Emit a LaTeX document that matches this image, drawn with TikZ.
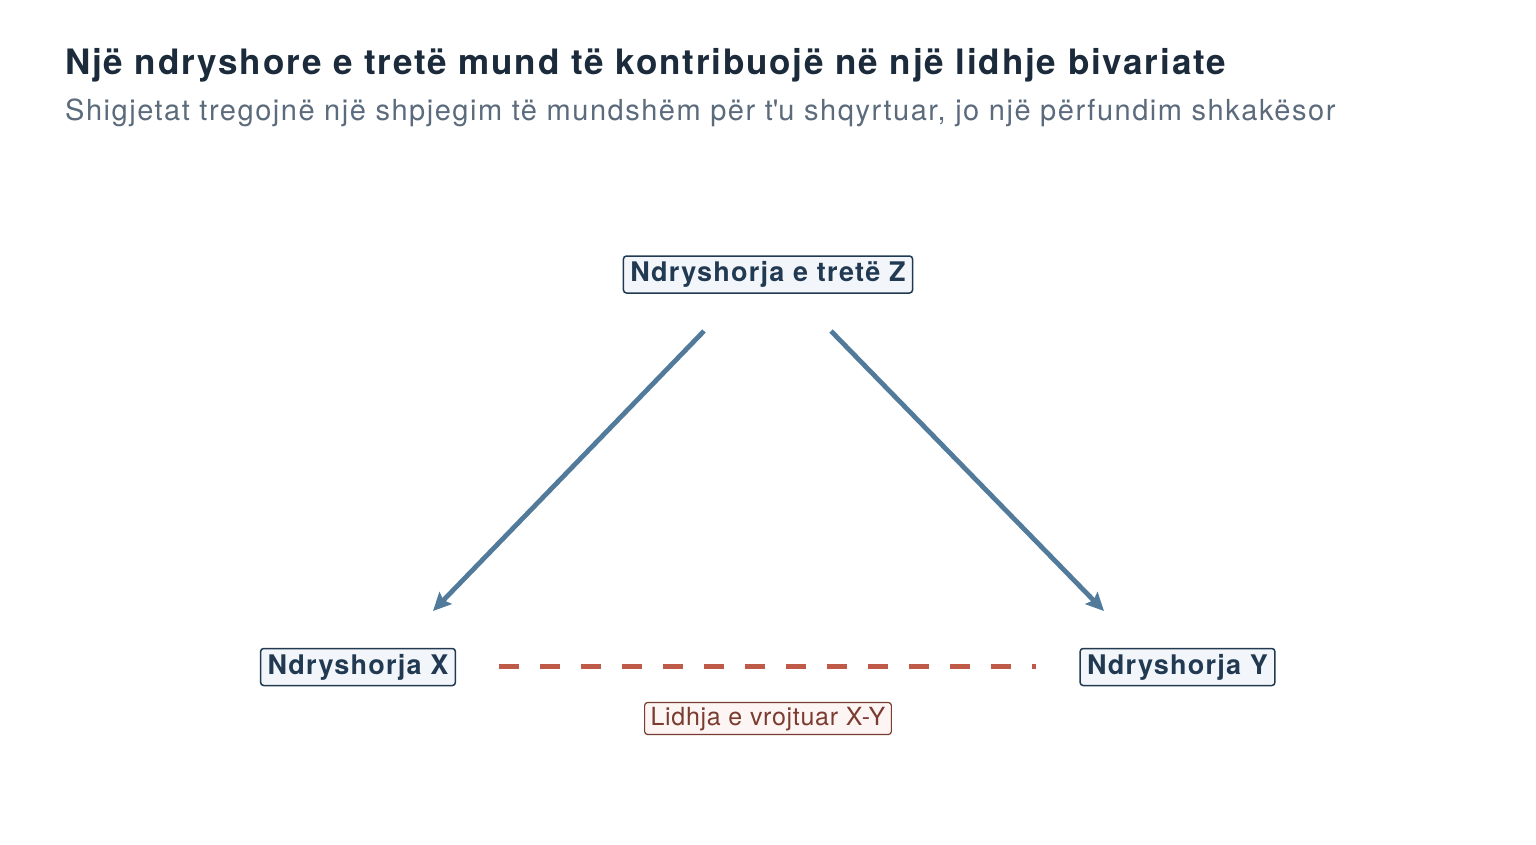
\documentclass[tikz,border=0pt]{standalone}
\usepackage{fontspec}
\setmainfont{TeX Gyre Heros}
\usetikzlibrary{arrows.meta}

\definecolor{titlenavy}{HTML}{1C2B3B}
\definecolor{subgray}{HTML}{5B6B7C}
\definecolor{varnavy}{HTML}{213A52}
\definecolor{varfill}{HTML}{F2F6FA}
\definecolor{arrowblue}{HTML}{527A9A}
\definecolor{linkred}{HTML}{C05A48}
\definecolor{linkbrown}{HTML}{7A3B30}
\definecolor{linkfill}{HTML}{FDF5F3}

\tikzset{
  varbox/.style={draw=varnavy, fill=varfill, text=varnavy, line width=1.5pt,
    rounded corners=3pt, inner xsep=7pt, inner ysep=5.5pt,
    text height=20pt, text depth=6pt,
    font=\fontsize{27}{30}\selectfont\bfseries\addfontfeatures{LetterSpace=4.6}},
  linkbox/.style={draw=linkbrown, fill=linkfill, text=linkbrown, line width=1.2pt,
    rounded corners=3pt, inner xsep=6pt, inner ysep=4.5pt,
    text height=18pt, text depth=5pt,
    font=\fontsize{25}{28}\selectfont\addfontfeatures{LetterSpace=2.8}},
  causal/.style={draw=arrowblue, line width=4.8pt,
    -{Stealth[length=18pt,width=17pt,inset=3pt]}},
  observed/.style={draw=linkred, line width=5pt, dash pattern={on 20pt off 21pt}}
}

\begin{document}
\begin{tikzpicture}[x=1pt,y=1pt,yscale=-1,xscale=1]
\useasboundingbox (0,0) rectangle (1536,844);

% Text Node
\draw (65,74) node [anchor=base west][inner sep=0pt, text=titlenavy, font=\fontsize{35}{40}\selectfont\bfseries\addfontfeatures{LetterSpace=5.3}] (title) {Një ndryshore e tretë mund të kontribuojë në një lidhje bivariate};
% Text Node
\draw (65,120) node [anchor=base west][inner sep=0pt, text=subgray, font=\fontsize{29}{34}\selectfont\addfontfeatures{LetterSpace=5.25}] (subtitle) {Shigjetat tregojnë një shpjegim të mundshëm për t\textquotesingle u shqyrtuar, jo një përfundim shkakësor};

% Text Node
\node [varbox] (varz) at (768,274.5) {Ndryshorja e tretë Z};
% Text Node
\node [varbox] (varx) at (358,667) {Ndryshorja X};
% Text Node
\node [varbox] (vary) at (1177.5,667) {Ndryshorja Y};
% Text Node
\node [linkbox] (link) at (768,718.5) {Lidhja e vrojtuar X-Y};

\coordinate (zleft) at (704,331);
\coordinate (zright) at (831,331);
\coordinate (xtop) at (433,611);
\coordinate (ytop) at (1104,611);
\coordinate (xright) at (499,666);
\coordinate (yleft) at (1036,666);

%Straight Lines
\draw [causal] (zleft) -- (xtop);
%Straight Lines
\draw [causal] (zright) -- (ytop);
%Straight Lines
\draw [observed] (xright) -- (yleft);

\end{tikzpicture}
\end{document}
